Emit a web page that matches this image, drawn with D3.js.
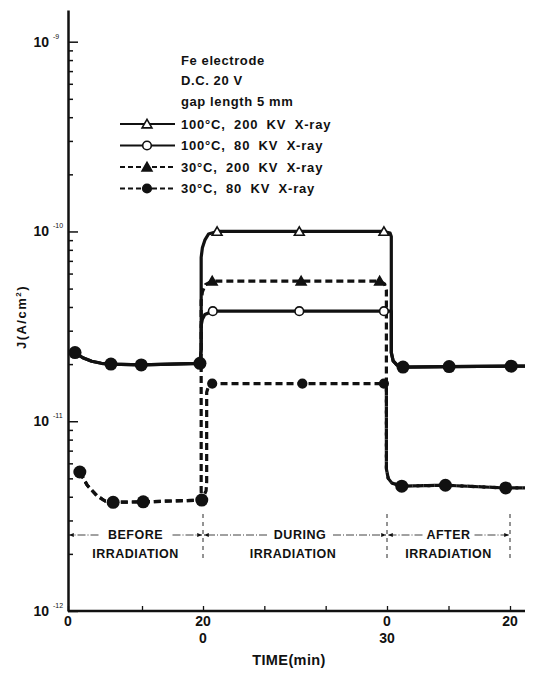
<!DOCTYPE html>
<html>
<head>
<meta charset="utf-8">
<script src="https://cdn.jsdelivr.net/npm/d3@7"></script>
<style>
  body { margin: 0; background: #fff; }
  svg { display: block; }
  text { font-family: "Liberation Sans", Arial, sans-serif; font-weight: bold; fill: #111; }
</style>
</head>
<body>
<svg id="chart" width="534" height="674"></svg>
<script>
// time runs on one continuous axis: 0-20 before, 20-50 during, 50-70 after
const xTickVals = [0, 10, 20, 30, 40, 50, 60, 70];
const xTickTop = ['0', '', '20', '', '', '0', '', '20'];
const xTickBottom = ['', '', '0', '', '', '30', '', ''];
const yDecades = [1e-12, 1e-11, 1e-10, 1e-9];
const yExponents = ['-12', '-11', '-10', '-9'];

// dark current points (big filled dots), same for both X-ray energies
const hotDark = [[0.95, 2.3e-11], [5.8, 2.0e-11], [9.9, 1.98e-11], [19.5, 2.02e-11], [52.6, 1.93e-11], [60.1, 1.94e-11], [70.2, 1.95e-11]];
const coldDark = [[1.6, 5.4e-12], [6.1, 3.74e-12], [10.2, 3.76e-12], [19.8, 3.84e-12], [52.4, 4.55e-12], [59.5, 4.6e-12], [69.3, 4.45e-12]];

// line vertices of each run
const hot200Path = [[0.95, 2.3e-11], [2.0, 2.16e-11], [3.2, 2.07e-11], [4.5, 2.02e-11], [5.8, 2.0e-11], [9.9, 1.98e-11], [19.5, 2.02e-11], [19.7, 2.4e-11], [19.7, 7.3e-11], [19.9, 8.2e-11], [20.3, 9.0e-11], [20.9, 9.7e-11], [22.3, 1.0e-10], [35.7, 1.0e-10], [49.5, 1.0e-10], [50.5, 9.8e-11], [50.7, 9.4e-11], [50.7, 2.3e-11], [51.0, 2.08e-11], [51.6, 1.98e-11], [52.6, 1.93e-11], [60.1, 1.94e-11], [70.2, 1.95e-11], [72.5, 1.95e-11]];
const hot80Path = [[0.95, 2.3e-11], [2.0, 2.16e-11], [3.2, 2.07e-11], [4.5, 2.02e-11], [5.8, 2.0e-11], [9.9, 1.98e-11], [19.5, 2.02e-11], [19.7, 2.4e-11], [19.7, 3.2e-11], [19.9, 3.45e-11], [20.3, 3.65e-11], [21.6, 3.8e-11], [35.7, 3.8e-11], [49.5, 3.8e-11], [50.7, 3.8e-11], [50.7, 2.3e-11], [51.0, 2.08e-11], [51.6, 1.98e-11], [52.6, 1.93e-11], [60.1, 1.94e-11], [70.2, 1.95e-11], [72.5, 1.95e-11]];
const cold200Path = [[1.6, 5.4e-12], [2.6, 4.6e-12], [3.9, 4.05e-12], [5.0, 3.8e-12], [6.1, 3.74e-12], [10.2, 3.76e-12], [19.8, 3.84e-12], [19.7, 4.3e-12], [19.7, 4.3e-11], [19.9, 4.8e-11], [20.4, 5.25e-11], [21.5, 5.48e-11], [36.0, 5.48e-11], [48.8, 5.48e-11], [49.6, 5.3e-11], [49.9, 4.9e-11], [49.9, 5.6e-12], [50.2, 5.0e-12], [50.8, 4.72e-12], [52.4, 4.55e-12], [59.5, 4.6e-12], [69.3, 4.45e-12], [72.5, 4.45e-12]];
const cold80Path = [[1.6, 5.4e-12], [2.6, 4.6e-12], [3.9, 4.05e-12], [5.0, 3.8e-12], [6.1, 3.74e-12], [10.2, 3.76e-12], [19.8, 3.84e-12], [20.5, 4.3e-12], [20.6, 4.8e-12], [20.6, 1.42e-11], [20.9, 1.53e-11], [21.5, 1.58e-11], [36.2, 1.58e-11], [49.5, 1.58e-11], [49.9, 1.5e-11], [49.9, 5.6e-12], [50.2, 5.0e-12], [50.8, 4.72e-12], [52.4, 4.55e-12], [59.5, 4.6e-12], [69.3, 4.45e-12], [72.5, 4.45e-12]];

// markers during irradiation
const hot200Marks = [[22.3, 1.0e-10], [35.7, 1.0e-10], [49.5, 1.0e-10]];
const hot80Marks = [[21.6, 3.8e-11], [35.7, 3.8e-11], [49.5, 3.8e-11]];
const cold200Marks = [[21.5, 5.48e-11], [36.0, 5.48e-11], [48.8, 5.48e-11]];
const cold80Marks = [[21.5, 1.58e-11], [36.2, 1.58e-11], [49.5, 1.58e-11]];

const legendNotes = ['Fe electrode', 'D.C. 20 V', 'gap length 5 mm'];
const legendLabels = ['100°C, 200 KV X-ray', '100°C, 80 KV X-ray', '30°C, 200 KV X-ray', '30°C, 80 KV X-ray'];
const phaseNames = [['BEFORE', 'IRRADIATION'], ['DURING', 'IRRADIATION'], ['AFTER', 'IRRADIATION']];
const phaseBounds = [[0, 20], [20, 50], [50, 70]];

const svg = d3.select('#chart');

// piecewise time scale, the before part is drawn a little wider
const x = d3.scaleLinear()
    .domain([0, 10, 20, 50, 70, 72.5])
    .range([68, 142, 203, 387, 510, 525]);

const y = d3.scaleLog()
    .domain([1e-12, Math.pow(10, -8.833)])
    .range([611, 10]);

// y axis with log minor ticks pointing inward
const yAxis = svg.append('g')
    .attr('transform', 'translate(68,0)')
    .call(d3.axisRight(y).ticks(30).tickSizeOuter(0).tickFormat(''));
yAxis.select('.domain').attr('stroke-width', 2.5).attr('stroke', '#111');
yAxis.selectAll('.tick line')
    .attr('stroke', '#111')
    .attr('stroke-width', 1.5)
    .attr('x2', d => yDecades.some(v => Math.abs(v - d) / v < 1e-6) ? 10 : 5);

// decade labels
const yLab = svg.append('g');
yDecades.forEach((v, i) => {
    yLab.append('text')
        .attr('x', 49)
        .attr('y', y(v))
        .attr('dy', '0.35em')
        .attr('text-anchor', 'end')
        .style('font-size', '14px')
        .text('10');
    yLab.append('text')
        .attr('x', 53)
        .attr('y', y(v) - 3)
        .style('font-size', '7px')
        .style('font-weight', 'normal')
        .text(yExponents[i]);
});

// x axis
const xAxis = svg.append('g')
    .attr('transform', 'translate(0,611)')
    .call(d3.axisTop(x).tickValues(xTickVals).tickSize(5).tickSizeOuter(0).tickFormat(''));
xAxis.select('.domain').attr('stroke-width', 2.5).attr('stroke', '#111')
    .attr('d', 'M' + x(0) + ',0H' + x(72.5));
xAxis.selectAll('.tick line').attr('stroke', '#111').attr('stroke-width', 1.3);

xTickVals.forEach((v, i) => {
    if (xTickTop[i]) svg.append('text')
        .attr('x', x(v)).attr('y', 626)
        .attr('text-anchor', 'middle')
        .style('font-size', '14px')
        .text(xTickTop[i]);
    if (xTickBottom[i]) svg.append('text')
        .attr('x', x(v)).attr('y', 643)
        .attr('text-anchor', 'middle')
        .style('font-size', '14px')
        .text(xTickBottom[i]);
});

svg.append('text')
    .attr('x', 289).attr('y', 665)
    .attr('text-anchor', 'middle')
    .style('font-size', '14.5px')
    .style('letter-spacing', '0.4px')
    .text('TIME(min)');

svg.append('text')
    .attr('transform', 'translate(26,317) rotate(-90)')
    .attr('text-anchor', 'middle')
    .style('font-size', '13px')
    .style('letter-spacing', '1.5px')
    .html('J(A/cm<tspan dy="-5" style="font-size:8px">2</tspan><tspan dy="5">)</tspan>');

// data lines
const line = d3.line()
    .x(d => x(d[0]))
    .y(d => y(d[1]));

const runs = [
    { path: hot200Path, dash: null },
    { path: hot80Path, dash: null },
    { path: cold200Path, dash: '7,4' },
    { path: cold80Path, dash: '7,4' }
];

svg.selectAll('.run')
    .data(runs)
    .enter().append('path')
    .attr('class', 'run')
    .attr('d', d => line(d.path))
    .attr('fill', 'none')
    .attr('stroke', '#111')
    .attr('stroke-width', 3.2)
    .attr('stroke-linejoin', 'round')
    .attr('stroke-dasharray', d => d.dash);

// dark points
svg.selectAll('.dark')
    .data(hotDark.concat(coldDark))
    .enter().append('circle')
    .attr('class', 'dark')
    .attr('cx', d => x(d[0]))
    .attr('cy', d => y(d[1]))
    .attr('r', 6.5)
    .attr('fill', '#111');

const tri = d3.symbol().type(d3.symbolTriangle).size(42);

function drawMarks(data, kind, g) {
    const sel = g.selectAll(null).data(data).enter();
    if (kind === 'openTri' || kind === 'fillTri') {
        sel.append('path')
            .attr('d', tri)
            .attr('transform', d => 'translate(' + x(d[0]) + ',' + (y(d[1]) + 1) + ')')
            .attr('fill', kind === 'openTri' ? '#fff' : '#111')
            .attr('stroke', '#111')
            .attr('stroke-width', 1.6);
    } else {
        sel.append('circle')
            .attr('cx', d => x(d[0]))
            .attr('cy', d => y(d[1]))
            .attr('r', 4.3)
            .attr('fill', kind === 'openCirc' ? '#fff' : '#111')
            .attr('stroke', '#111')
            .attr('stroke-width', 1.6);
    }
}

const markG = svg.append('g');
drawMarks(hot200Marks, 'openTri', markG);
drawMarks(hot80Marks, 'openCirc', markG);
drawMarks(cold200Marks, 'fillTri', markG);
drawMarks(cold80Marks, 'fillCirc', markG);

// legend
const legend = svg.append('g');
legendNotes.forEach((t, i) => {
    legend.append('text')
        .attr('x', 181).attr('y', 60 + i * 20.5)
        .attr('dy', '0.35em')
        .style('font-size', '13px')
        .style('letter-spacing', '0.6px')
        .text(t);
});
const legendKinds = ['openTri', 'openCirc', 'fillTri', 'fillCirc'];
const legendDash = [null, null, '5,3', '5,3'];
legendLabels.forEach((t, i) => {
    const ly = 124 + i * 21.5;
    legend.append('line')
        .attr('x1', 120).attr('x2', 175)
        .attr('y1', ly).attr('y2', ly)
        .attr('stroke', '#111')
        .attr('stroke-width', 2)
        .attr('stroke-dasharray', legendDash[i]);
    // legend marker placed through the same helper, at a shifted data point
    const g = legend.append('g').attr('transform', 'translate(' + (147 - x(0)) + ',' + (ly - y(1e-11)) + ')');
    drawMarks([[0, 1e-11]], legendKinds[i], g);
    legend.append('text')
        .attr('x', 181).attr('y', ly)
        .attr('dy', '0.35em')
        .style('font-size', '13px')
        .style('letter-spacing', '0.8px')
        .style('word-spacing', '4px')
        .text(t);
});

// phase annotation under the curves
svg.append('defs').append('marker')
    .attr('id', 'arr')
    .attr('viewBox', '0 0 10 10')
    .attr('refX', 10).attr('refY', 5)
    .attr('markerWidth', 6).attr('markerHeight', 6)
    .attr('orient', 'auto-start-reverse')
    .append('path')
    .attr('d', 'M0,1L10,5L0,9z')
    .attr('fill', '#111');

const ann = svg.append('g');
const annY = 535;
[20, 50, 70].forEach(v => {
    ann.append('line')
        .attr('x1', x(v)).attr('x2', x(v))
        .attr('y1', 514).attr('y2', 560)
        .attr('stroke', '#111')
        .attr('stroke-width', 0.9)
        .attr('stroke-dasharray', '4,4');
});
const phaseLabelHalf = [34, 30, 23];
phaseBounds.forEach((b, i) => {
    const cx = i === 1 ? 300 : (x(b[0]) + x(b[1])) / 2;
    const half = phaseLabelHalf[i];
    ann.append('line')
        .attr('x1', cx - half - 3).attr('x2', x(b[0]) + 1)
        .attr('y1', annY).attr('y2', annY)
        .attr('stroke', '#111').attr('stroke-width', 0.8)
        .attr('stroke-dasharray', '8,2,1,2')
        .attr('marker-end', 'url(#arr)');
    ann.append('line')
        .attr('x1', cx + half + 3).attr('x2', x(b[1]) - 1)
        .attr('y1', annY).attr('y2', annY)
        .attr('stroke', '#111').attr('stroke-width', 0.8)
        .attr('stroke-dasharray', '8,2,1,2')
        .attr('marker-end', 'url(#arr)');
    ann.append('text')
        .attr('x', cx).attr('y', annY)
        .attr('dy', '0.35em')
        .attr('text-anchor', 'middle')
        .style('font-size', '12.5px')
        .style('letter-spacing', '0.5px')
        .text(phaseNames[i][0]);
    ann.append('text')
        .attr('x', i === 1 ? 293 : cx).attr('y', annY + 19)
        .attr('dy', '0.35em')
        .attr('text-anchor', 'middle')
        .style('font-size', '12.5px')
        .style('letter-spacing', '0.5px')
        .text(phaseNames[i][1]);
});
</script>
</body>
</html>
